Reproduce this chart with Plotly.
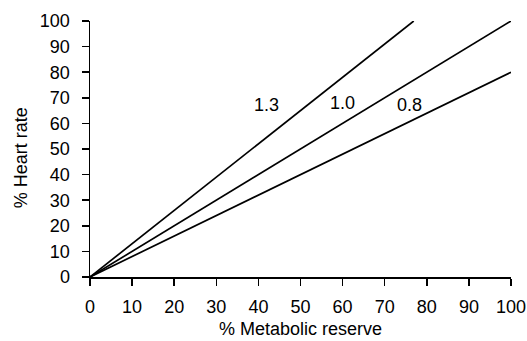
import plotly.graph_objects as go

# Data: lines from origin with slopes (heart rate % vs metabolic reserve %)
slope_labels = ["1.3", "1.0", "0.8"]
line_x_start = [0, 0, 0]
line_y_start = [0, 0, 0]
line_x_end = [76.9, 100, 100]
line_y_end = [100, 100, 80]
label_x = [42, 60, 76]
label_y = [67, 68, 67]
tick_vals = [0, 10, 20, 30, 40, 50, 60, 70, 80, 90, 100]

fig = go.Figure()
for i in range(len(slope_labels)):
    fig.add_trace(go.Scatter(
        x=[line_x_start[i], line_x_end[i]],
        y=[line_y_start[i], line_y_end[i]],
        mode="lines",
        line=dict(color="black", width=1.7),
        showlegend=False,
        hoverinfo="skip",
        cliponaxis=False,
    ))

for i in range(len(slope_labels)):
    fig.add_annotation(x=label_x[i], y=label_y[i], text=slope_labels[i],
                       showarrow=False, font=dict(size=18, color="black"))

# axis titles as paper annotations for exact placement
fig.add_annotation(xref="paper", yref="paper", x=0.5, y=-0.205,
                   text="% Metabolic reserve", showarrow=False,
                   xanchor="center", yanchor="middle",
                   font=dict(size=18, color="black"))
fig.add_annotation(xref="paper", yref="paper", x=-0.163, y=0.465,
                   text="% Heart rate", showarrow=False, textangle=-90,
                   xanchor="center", yanchor="middle",
                   font=dict(size=18, color="black"))

axis_common = dict(
    range=[0, 100], tickvals=tick_vals, showgrid=False, zeroline=False,
    showline=True, linecolor="black", linewidth=1.5,
    ticks="outside", ticklen=7, tickwidth=1.5, tickcolor="black",
    tickfont=dict(size=18, color="black"), automargin=False,
)

fig.update_layout(
    width=527, height=341,
    margin=dict(l=90, r=15.5, t=20.5, b=63.5),
    plot_bgcolor="white", paper_bgcolor="white",
    font=dict(family="Liberation Sans, Arial, sans-serif", size=18, color="black"),
    xaxis=dict(ticklabelstandoff=6, **axis_common),
    yaxis=dict(ticklabelstandoff=8, **axis_common),
)

fig.write_html(
    "out.html",
    config={"displayModeBar": False, "staticPlot": True},
    post_script="document.body.style.margin='0';document.body.style.overflow='hidden';",
)
